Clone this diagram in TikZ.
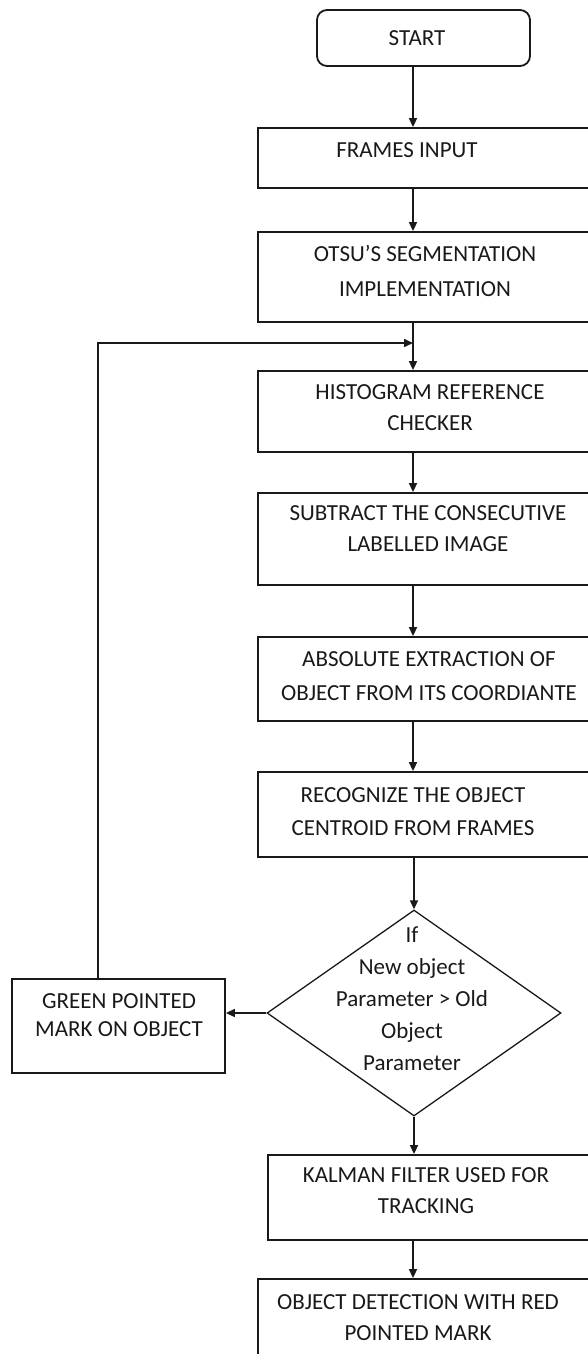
\documentclass[tikz,border=0pt]{standalone}
\usepackage{fontspec}
\setmainfont{Carlito}
\usetikzlibrary{arrows.meta,shapes.geometric}
\begin{document}
\begin{tikzpicture}[x=1pt,y=-1pt,
  box/.style={draw=black!90,line width=1.8pt,rectangle,inner sep=0pt},
  startbox/.style={draw=black!90,line width=1.8pt,rectangle,rounded corners=10pt,inner sep=0pt},
  dia/.style={draw=black!90,line width=1.3pt,diamond,inner sep=0pt,minimum width=294pt,minimum height=206pt},
  txt/.style={align=center,inner sep=0pt,text=black!90,font=\fontsize{23}{31}\selectfont},
  arr/.style={draw=black!90,line width=1.6pt,-{Triangle[length=9pt,width=8pt]}},
  ln/.style={draw=black!90,line width=1.6pt}]
\useasboundingbox (0,0) rectangle (587,1354);
% column of the main flow and of the loop
\coordinate (colx) at (413,0);
\coordinate (loopx) at (98,0);
% boxes
\node[startbox,minimum width=213pt,minimum height=56pt] (start) at (423.5,38) {};
\node[txt] (startT) at (417,38) {START};
\node[box,minimum width=332pt,minimum height=60pt] (frames) at (424,158) {};
\node[txt] (framesT) at (407,150) {FRAMES INPUT};
\node[box,minimum width=332pt,minimum height=90pt] (otsu) at (424,277) {};
\node[txt,font=\fontsize{23}{35}\selectfont] (otsuT) at (425,271) {OTSU’S SEGMENTATION\\IMPLEMENTATION};
\node[box,minimum width=332pt,minimum height=81pt] (hist) at (424,411.5) {};
\node[txt] (histT) at (430,408) {HISTOGRAM REFERENCE\\CHECKER};
\node[box,minimum width=332pt,minimum height=92pt] (subtr) at (424,539) {};
\node[txt] (subtrT) at (428,529) {SUBTRACT THE CONSECUTIVE\\LABELLED IMAGE};
\node[box,minimum width=332pt,minimum height=84pt] (absx) at (424,679) {};
\node[txt,font=\fontsize{23}{34}\selectfont] (absT) at (429,676) {ABSOLUTE EXTRACTION OF\\OBJECT FROM ITS COORDIANTE};
\node[box,minimum width=332pt,minimum height=85pt] (recog) at (424,814.5) {};
\node[txt,font=\fontsize{23}{33}\selectfont] (recogT) at (413,812) {RECOGNIZE THE OBJECT\\CENTROID FROM FRAMES};
\node[dia] (cond) at (414,1013) {};
\node[txt,font=\fontsize{23}{32}\selectfont] (condT) at (412,999) {If\\New object\\Parameter > Old\\Object\\Parameter};
\node[box,minimum width=213pt,minimum height=94pt] (green) at (118.5,1026) {};
\node[txt,font=\fontsize{23}{28}\selectfont] (greenT) at (119,1015) {GREEN POINTED\\MARK ON OBJECT};
\node[box,minimum width=322pt,minimum height=85pt] (kalman) at (429,1197.5) {};
\node[txt] (kalmanT) at (426,1191) {KALMAN FILTER USED FOR\\TRACKING};
\node[box,minimum width=332pt,minimum height=90pt] (detect) at (424,1324) {};
\node[txt] (detectT) at (418,1318) {OBJECT DETECTION WITH RED\\POINTED MARK};
% connectors
\draw[arr] (start.south -| colx) -- (frames.north -| colx);
\draw[arr] (frames.south -| colx) -- (otsu.north -| colx);
\coordinate (join) at (413,343);
\draw[arr] (otsu.south -| colx) -- (hist.north -| colx);
\draw[arr] (hist.south -| colx) -- (subtr.north -| colx);
\draw[arr] (subtr.south -| colx) -- (absx.north -| colx);
\draw[arr] (absx.south -| colx) -- (recog.north -| colx);
\draw[arr] (recog.south -| cond.north) -- (cond.north);
\draw[arr] (cond.west) -- (green.east |- cond.west);
\draw[arr] (green.north -| loopx) |- (join);
\draw[arr] (cond.south) -- (kalman.north -| cond.south);
\draw[arr] (kalman.south -| colx) -- (detect.north -| colx);
\end{tikzpicture}
\end{document}
